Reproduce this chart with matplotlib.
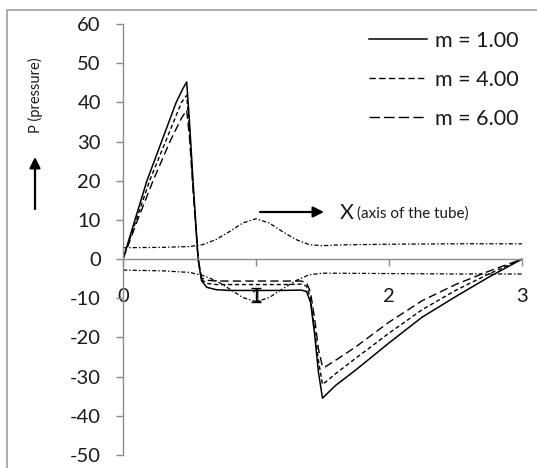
import matplotlib
matplotlib.use("Agg")
import matplotlib.pyplot as plt
from matplotlib.lines import Line2D
from matplotlib.patches import Rectangle

# ---- data -------------------------------------------------------------
x_m1 = [0, 0.09, 0.18, 0.29, 0.40, 0.45, 0.479, 0.50, 0.53, 0.565, 0.59, 0.63,
        0.70, 0.80, 1.00, 1.20, 1.34, 1.38, 1.41, 1.44, 1.47, 1.50, 1.53, 1.60,
        1.75, 2.00, 2.25, 2.50, 2.75, 3.00]
p_m1 = [0, 10, 20, 30, 40, 43.5, 45.2, 35, 18, 0, -5.5, -7.2,
        -7.8, -8.0, -8.0, -8.0, -7.9, -8.3, -11, -19, -29, -35.5, -34.5, -32.2,
        -28.3, -21.4, -14.8, -9.6, -4.6, 0]

x_m4 = [0, 0.10, 0.20, 0.32, 0.44, 0.479, 0.50, 0.53, 0.565, 0.59, 0.63, 0.70,
        0.80, 1.00, 1.20, 1.34, 1.38, 1.41, 1.44, 1.47, 1.50, 1.53, 1.60, 1.75,
        2.00, 2.25, 2.50, 2.75, 3.00]
p_m4 = [0, 10, 20, 30, 40, 41.8, 33, 17, 0, -5.2, -6.2, -6.5,
        -6.5, -6.5, -6.5, -6.4, -6.9, -10, -18, -26, -32.0, -31.2, -29.2, -25.3,
        -18.9, -12.9, -8.0, -3.8, 0]

x_m6 = [0, 0.11, 0.226, 0.353, 0.44, 0.479, 0.50, 0.53, 0.565, 0.59, 0.63, 0.70,
        0.80, 1.00, 1.20, 1.34, 1.38, 1.41, 1.44, 1.47, 1.50, 1.52, 1.60, 1.75,
        2.00, 2.25, 2.50, 2.75, 3.00]
p_m6 = [0, 10, 20, 30, 36, 38, 31, 16, 0, -4.8, -5.4, -5.6,
        -5.6, -5.6, -5.6, -5.6, -6.0, -8.5, -15, -23, -27.5, -27.5, -25.8, -22.4,
        -16.1, -10.6, -6.5, -3.1, 0]

# tube wall profile (upper and lower boundary)
x_wall = [0, 0.3, 0.5, 0.6, 0.7, 0.8, 0.9, 1.0, 1.1, 1.2, 1.3, 1.4, 1.5, 1.6,
          2.0, 2.5, 3.0]
wall_upper = [2.9, 3.0, 3.2, 3.7, 5.0, 7.0, 9.2, 10.3, 9.2, 7.0, 5.0, 3.7, 3.4,
              3.6, 3.8, 3.9, 3.9]
wall_lower = [-2.8, -3.0, -3.4, -4.2, -5.5, -7.6, -9.8, -10.9, -9.8, -7.6, -5.5,
              -4.0, -3.6, -3.6, -3.7, -3.8, -3.8]

# vertical marker at the throat
mark_x = [1.0]
mark_lo = [-11.0]
mark_hi = [-7.5]

labels = ["m = 1.00", "m = 4.00", "m = 6.00"]
x_ticks = [0, 1, 2, 3]
y_ticks = [60, 50, 40, 30, 20, 10, 0, -10, -20, -30, -40, -50]

# ---- styling ------------------------------------------------------------
W, H = 537, 468
DPI = 100
plt.rcParams["font.family"] = ["Lato", "DejaVu Sans"]
plt.rcParams["lines.scale_dashes"] = False


def fx(px):
    return px / W


def fy(py):
    return 1 - py / H


fig = plt.figure(figsize=(W / DPI, H / DPI), dpi=DPI)
fig.patch.set_facecolor("white")

# outer chart frame
fig.patches.append(Rectangle((fx(7), fy(480)), fx(560) - fx(7), fy(10) - fy(480),
                             transform=fig.transFigure, fill=False,
                             edgecolor="#a6a6a6", linewidth=1.3))

ax = fig.add_axes([fx(123), fy(455), fx(522) - fx(123), fy(24) - fy(455)])
ax.set_xlim(0, 3)
ax.set_ylim(-50, 60)

axis_color = "#8c8c8c"
for s in ("top", "right"):
    ax.spines[s].set_visible(False)
ax.spines["bottom"].set_position(("data", 0))
ax.spines["left"].set_position(("data", 0))
ax.spines["bottom"].set_color(axis_color)
ax.spines["left"].set_color(axis_color)
ax.spines["bottom"].set_linewidth(1.0)
ax.spines["left"].set_linewidth(1.0)

ax.set_xticks(x_ticks)
ax.set_xticklabels([str(t) for t in x_ticks])
ax.set_yticks(y_ticks)
ax.set_yticklabels([str(t) for t in y_ticks])
ax.tick_params(axis="x", direction="out", length=5, width=1.0, color=axis_color,
               labelsize=14.5, pad=16, labelcolor="#1a1a1a")
ax.tick_params(axis="y", direction="out", length=5, width=1.0, color=axis_color,
               labelsize=14.5, pad=11, labelcolor="#1a1a1a")

lw = 1.0
ax.plot(x_wall, wall_upper, color="black", lw=0.9, dashes=(3.0, 1.5, 1.0, 1.5))
ax.plot(x_wall, wall_lower, color="black", lw=0.9, dashes=(3.0, 1.5, 1.0, 1.5))
ax.plot(x_m1, p_m1, color="black", lw=1.1, solid_joinstyle="round")
ax.plot(x_m4, p_m4, color="black", lw=lw, dashes=(3.0, 2.0))
ax.plot(x_m6, p_m6, color="black", lw=lw, dashes=(6.0, 3.0))
ax.errorbar(mark_x, [(a + b) / 2 for a, b in zip(mark_lo, mark_hi)],
            yerr=[(b - a) / 2 for a, b in zip(mark_lo, mark_hi)],
            fmt="none", ecolor="black", elinewidth=1.0, capsize=3.5, capthick=1.0)

handles = [
    Line2D([], [], color="black", lw=1.1),
    Line2D([], [], color="black", lw=1.0, dashes=(4.5, 2.5)),
    Line2D([], [], color="black", lw=1.0, dashes=(7.5, 3.0)),
]
fig.legend(handles, labels, loc="upper right",
           bbox_to_anchor=(fx(519), fy(31)), frameon=False, fontsize=15.5,
           handlelength=2.7, handletextpad=0.4, labelspacing=0.88,
           borderpad=0, borderaxespad=0, labelcolor="#1a1a1a")

# axis captions with arrows
fig.text(fx(35), fy(95), "P (pressure)", rotation=90, ha="center", va="center",
         fontsize=10.5, color="#1a1a1a")
ax.annotate("", xy=(fx(35), fy(157)), xytext=(fx(35), fy(209)),
            xycoords="figure fraction", textcoords="figure fraction",
            arrowprops=dict(arrowstyle="-|>", color="black", lw=1.6,
                            mutation_scale=16, shrinkA=0, shrinkB=0))
ax.annotate("", xy=(fx(324), fy(212)), xytext=(fx(260), fy(212)),
            xycoords="figure fraction", textcoords="figure fraction",
            arrowprops=dict(arrowstyle="-|>", color="black", lw=1.6,
                            mutation_scale=16, shrinkA=0, shrinkB=0))
fig.text(fx(340), fy(213), "X", ha="left", va="center", fontsize=15.5,
         color="#1a1a1a")
fig.text(fx(357), fy(214), "(axis of the tube)", ha="left", va="center",
         fontsize=11, color="#1a1a1a")

fig.savefig("out.png", dpi=DPI, facecolor="white")
